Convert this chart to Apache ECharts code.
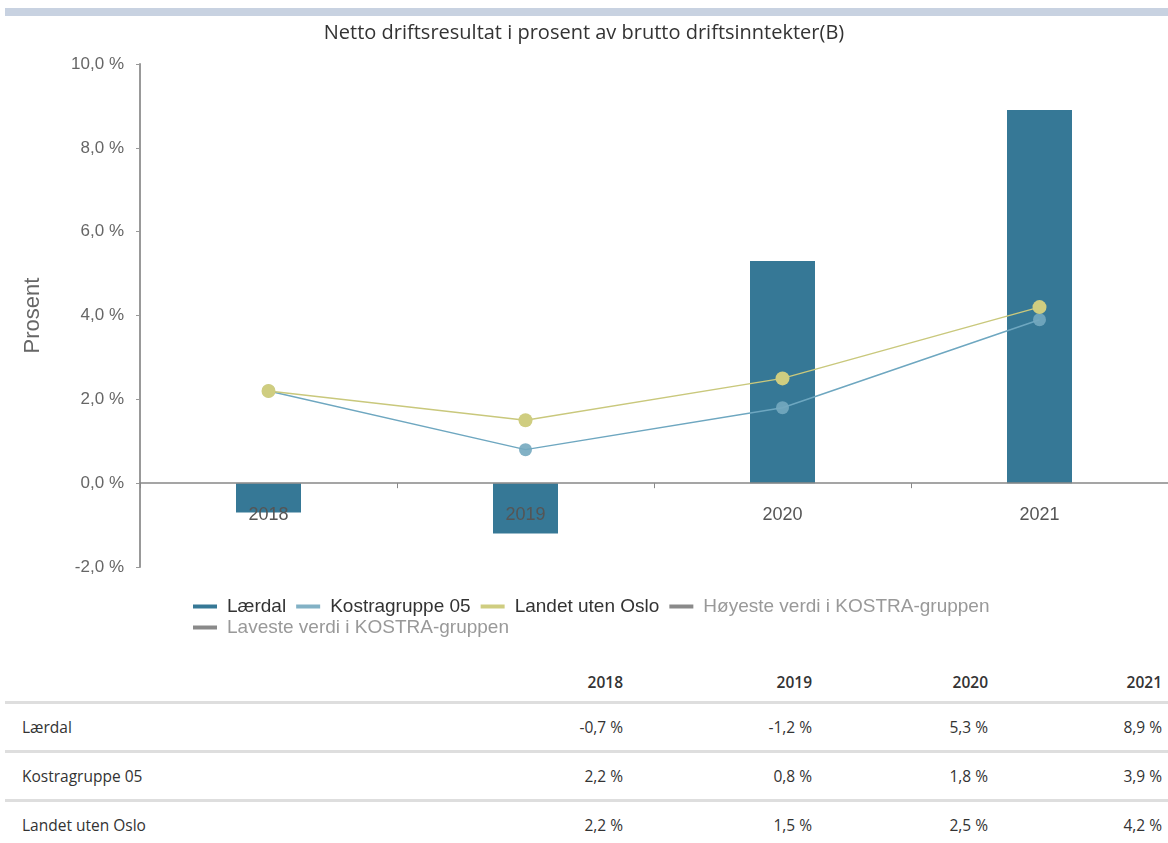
<!DOCTYPE html>
<html><head><meta charset="utf-8">
<script src="https://cdn.jsdelivr.net/npm/echarts@6/dist/echarts.min.js"></script>
<style>
html,body{margin:0;padding:0;background:#fff;}
#wrap{position:relative;width:1168px;height:843px;overflow:hidden;}
#band{position:absolute;left:5px;top:8px;width:1163px;height:8px;background:#c8d2e1;}
#chart{position:absolute;left:0;top:0;width:1168px;height:650px;}
#tbl{position:absolute;left:5px;top:662px;width:1163px;font-family:"Open Sans",sans-serif;font-size:15.5px;color:#333;}
#tbl table{border-collapse:collapse;width:1163px;}
#tbl td,#tbl th{padding:0;height:46px;}
#tbl th{font-weight:600;text-align:right;height:39px;}
#tbl tr.r td{border-top:3px solid #dedede;}
</style></head>
<body><div id="wrap"><div id="band"></div><div id="chart"></div><div id="tbl"></div></div>
<script>
var categories = ['2018','2019','2020','2021'];
var laerdal = [-0.7, -1.2, 5.3, 8.9];
var kostra = [2.2, 0.8, 1.8, 3.9];
var landet = [2.2, 1.5, 2.5, 4.2];
var seriesNames = ['Lærdal','Kostragruppe 05','Landet uten Oslo','Høyeste verdi i KOSTRA-gruppen','Laveste verdi i KOSTRA-gruppen'];
var titleText = 'Netto driftsresultat i prosent av brutto driftsinntekter(B)';

function fmt(v){ return v.toFixed(1).replace('.', ',') + ' %'; }

var legendText = {fontFamily:'Liberation Sans, Arial',fontSize:19,color:'#333',padding:[0,0,0,5]};
var greyItem = {textStyle:{color:'#999'},itemStyle:{color:'#8a8a8a'}};

var chart = echarts.init(document.getElementById('chart'));
chart.setOption({
  animation:false,
  title:{text:titleText,left:'center',top:18,textStyle:{fontFamily:'Open Sans',fontSize:20,fontWeight:'normal',color:'#333'}},
  grid:{left:140,right:0,top:64,bottom:83},
  legend:[
    {left:188, top:592, itemWidth:24, itemHeight:4, itemGap:10, icon:'rect', textStyle:legendText,
     data:[{name:seriesNames[0]},{name:seriesNames[1]},{name:seriesNames[2]},
           Object.assign({name:seriesNames[3]},greyItem)]},
    {left:188, top:613, itemWidth:24, itemHeight:4, itemGap:10, icon:'rect', textStyle:legendText,
     data:[Object.assign({name:seriesNames[4]},greyItem)]}
  ],
  xAxis:{type:'category',data:categories,z:10,
    axisLine:{onZero:true,lineStyle:{color:'#888',width:1.5}},
    axisTick:{show:true,length:5,lineStyle:{color:'#888'}},
    axisLabel:{margin:-61,fontFamily:'Liberation Sans, Arial',fontSize:18,color:'#555'}},
  yAxis:{type:'value',min:-2,max:10,interval:2,
    name:'Prosent',nameLocation:'middle',nameGap:96,
    nameTextStyle:{fontFamily:'Liberation Sans, Arial',fontSize:22,color:'#666'},
    axisLine:{show:true,lineStyle:{color:'#999',width:2}},
    axisTick:{show:true,length:4,lineStyle:{color:'#999'}},
    splitLine:{show:false},
    axisLabel:{margin:16,fontFamily:'Liberation Sans, Arial',fontSize:17,color:'#666',formatter:function(v){return fmt(v);}}},
  series:[
    {name:seriesNames[0],type:'bar',data:laerdal,barWidth:65,itemStyle:{color:'#367896'},z:2},
    {name:seriesNames[1],type:'line',data:kostra,symbol:'circle',symbolSize:13,z:3,
      lineStyle:{color:'#6ea7c0',width:1.5},itemStyle:{color:'#74a8bf',opacity:0.9}},
    {name:seriesNames[2],type:'line',data:landet,symbol:'circle',symbolSize:14,z:4,
      lineStyle:{color:'#c9c87c',width:1.5},itemStyle:{color:'#cfcd80'}},
    {name:seriesNames[3],type:'line',data:[],itemStyle:{color:'#8a8a8a'}},
    {name:seriesNames[4],type:'line',data:[],itemStyle:{color:'#8a8a8a'}}
  ]
});

// Table
var rows = [[seriesNames[0],laerdal],[seriesNames[1],kostra],[seriesNames[2],landet]];
var colW = [430,188,189,176,180];
var h = '<table><colgroup>'+colW.map(function(w){return '<col style="width:'+w+'px">';}).join('')+'</colgroup>';
h += '<tr><th></th>';
categories.forEach(function(c,i){ h += '<th style="padding-right:'+(i==3?6:0)+'px">'+c+'</th>'; });
h += '</tr>';
rows.forEach(function(r){
  h += '<tr class="r"><td style="text-align:left;padding-left:17px">'+r[0]+'</td>';
  r[1].forEach(function(v,i){ h += '<td style="text-align:right;padding-right:'+(i==3?6:0)+'px">'+fmt(v)+'</td>'; });
  h += '</tr>';
});
h += '</table>';
document.getElementById('tbl').innerHTML = h;
</script></body></html>
